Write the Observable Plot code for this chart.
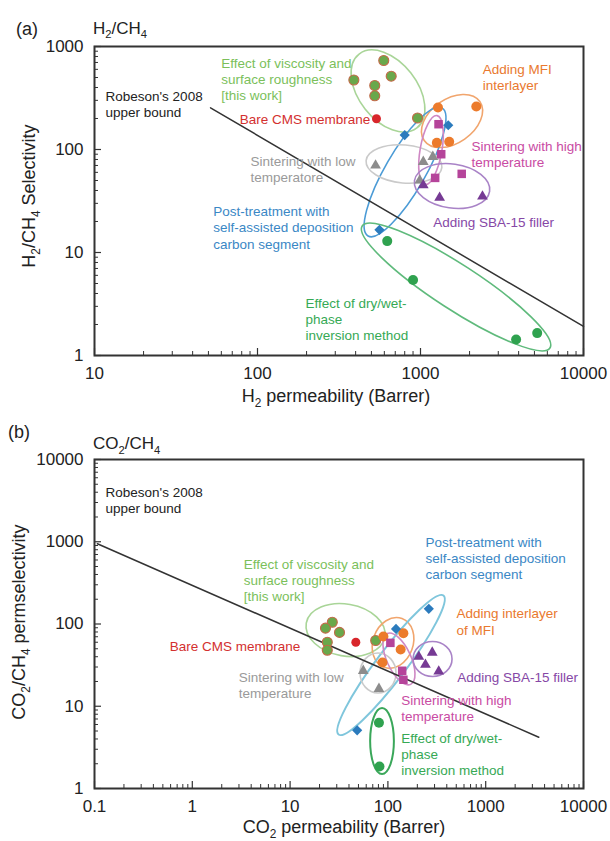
<!DOCTYPE html>
<html>
<head>
<meta charset="utf-8">
<script src="https://cdn.jsdelivr.net/npm/d3@7"></script>
<script src="https://cdn.jsdelivr.net/npm/@observablehq/plot@0.6"></script>
<style>
  body { margin: 0; background: #fff; }
  #fig { position: relative; width: 610px; height: 841px; background: #fff; }
  #fig svg { position: absolute; left: 0; }
</style>
</head>
<body>
<div id="fig"></div>
<script>
const FONT = '"Liberation Sans", Arial, Helvetica, sans-serif';

// ---------------- Panel (a): H2/CH4 ----------------
const h2PermTicks = [10, 100, 1000, 10000];
const h2SelTicks = [1, 10, 100, 1000];
const h2Bound = [[51.5, 254], [10000, 1.92]];
const h2ThisWork = [[390, 473], [595, 731], [661, 515], [524, 418], [524, 332], [959, 202]];
const h2Bare = [[537, 199]];
const h2Mfi = [[1280, 256], [2200, 261], [1260, 116], [1500, 119]];
const h2Post = [[1480, 172], [800, 138], [560, 16.6]];
const h2High = [[1290, 176], [1340, 90], [1230, 53], [1790, 58]];
const h2Low = [[530, 70], [1040, 76], [1190, 85], [990, 50]];
const h2Sba = [[1040, 45], [1310, 34], [2400, 35]];
const h2DryWet = [[625, 12.9], [900, 5.4], [3860, 1.43], [5200, 1.65]];
const h2Outlines = [
  {group: "thisWork", from: [423, 836], to: [957, 160], ratio: 0.62},
  {group: "mfi", from: [1061, 121], to: [2328, 289], ratio: 0.65},
  {group: "post", from: [480, 14.3], to: [1365, 251], ratio: 0.27},
  {group: "low", from: [467, 77], to: [1362, 66.4], ratio: 0.5},
  {group: "high", from: [1072, 45.2], to: [1273, 211], ratio: 0.31},
  {group: "sba", from: [925, 49.2], to: [2673, 38.8], ratio: 0.58},
  {group: "dryWet", from: [442, 17.9], to: [6266, 1.17], ratio: 0.2}
];
const h2Notes = [
  {x: 11.68, y: 280, group: "bound", text: "Robeson's 2008\nupper bound"},
  {x: 59.9, y: 484, group: "thisWork", text: "Effect of viscosity and\nsurface roughness\n[this work]"},
  {x: 77.9, y: 199, group: "bare", text: "Bare CMS membrane"},
  {x: 2411, y: 508, group: "mfi", text: "Adding MFI\ninterlayer"},
  {x: 2055, y: 90, group: "high", text: "Sintering with high\ntemperature"},
  {x: 90.6, y: 64.9, group: "low", text: "Sintering with low\ntemperatore"},
  {x: 53.5, y: 17.6, group: "post", text: "Post-treatment with\nself-assisted deposition\ncarbon segment"},
  {x: 1196, y: 19.7, group: "sba", text: "Adding SBA-15 filler"},
  {x: 197, y: 2.26, group: "dryWet", text: "Effect of dry/wet-\nphase\ninversion method"}
];

// ---------------- Panel (b): CO2/CH4 ----------------
const co2PermTicks = [0.1, 1, 10, 100, 1000, 10000];
const co2SelTicks = [1, 10, 100, 1000, 10000];
const co2Bound = [[0.107, 944], [3490, 4.2]];
const co2ThisWork = [[27, 105], [23, 89], [32, 79], [24, 60], [24, 48], [75, 63]];
const co2Bare = [[47, 60]];
const co2Mfi = [[90, 70.5], [144, 77], [135, 49], [88, 34]];
const co2Post = [[262, 153], [121, 87], [48.5, 5.1]];
const co2High = [[106, 59], [140, 27], [144, 21]];
const co2Low = [[56, 27], [81, 16.3]];
const co2Sba = [[284, 45], [242, 32], [331, 26.5], [207, 40]];
const co2DryWet = [[81, 6.3], [82, 1.85]];
const co2Outlines = [
  {group: "thisWork", from: [14.8, 101], to: [94.2, 68.6], ratio: 0.65},
  {group: "mfi", from: [92.5, 29.3], to: [141, 115], ratio: 0.77},
  {group: "post", from: [31.7, 4.47], to: [374, 219], ratio: 0.17},
  {group: "low", from: [80.2, 14.3], to: [80.2, 43.8], ratio: 0.9},
  {group: "high", from: [173, 18.2], to: [99.6, 75.4], ratio: 0.43},
  {group: "sba", from: [183, 37], to: [458, 37], ratio: 0.9},
  {group: "dryWet", from: [88.1, 1.48], to: [88.1, 9.39], ratio: 0.36}
];
const co2Notes = [
  {x: 0.1296, y: 3218, group: "bound", text: "Robeson's 2008\nupper bound"},
  {x: 3.36, y: 345, group: "thisWork", text: "Effect of viscosity and\nsurface roughness\n[this work]"},
  {x: 242, y: 636, group: "post", text: "Post-treatment with\nself-assisted deposition\ncarbon segment"},
  {x: 503, y: 108, group: "mfi", text: "Adding interlayer\nof MFI"},
  {x: 0.589, y: 54.8, group: "bare", text: "Bare CMS membrane"},
  {x: 2.99, y: 18.3, group: "low", text: "Sintering with low\ntemperature"},
  {x: 511, y: 22.5, group: "sba", text: "Adding SBA-15 filler"},
  {x: 136.8, y: 9.52, group: "high", text: "Sintering with high\ntemperature"},
  {x: 136.8, y: 2.66, group: "dryWet", text: "Effect of dry/wet-\nphase\ninversion method"}
];

// ---------------- styles ----------------
const STYLE = {
  bound:    {text: "#222222"},
  thisWork: {fill: "#69a84b", stroke: "#c26a48", text: "#7bbf5b", ring: "#a9d598", symbol: "circle", r: 5},
  bare:     {fill: "#d8262b", text: "#d3302f", symbol: "circle", r: 4.5},
  mfi:      {fill: "#ec7b2c", text: "#e9792f", ring: "#f1a56d", symbol: "circle", r: 5},
  post:     {fill: "#2b7bbd", text: "#3a87c5", ring: "#4b9bd6", ring2: "#7fc6dc", symbol: "diamond2", r: 4.6},
  high:     {fill: "#b5449a", text: "#c94ba3", ring: "#cf88c4", symbol: "square", r: 4.8},
  low:      {fill: "#8c8c8c", text: "#9a9a9a", ring: "#cacaca", symbol: "triangle", r: 4},
  sba:      {fill: "#763a94", text: "#8648a6", ring: "#a983c7", symbol: "triangle", r: 4},
  dryWet:   {fill: "#2fa24f", text: "#36a955", ring: "#5fba7c", ring2: "#3aa75a", symbol: "circle", r: 5}
};

function outlineMark(specs, alt) {
  return (index, scales) => {
    const g = d3.create("svg:g").attr("fill", "none");
    for (const s of specs) {
      const x1 = scales.x(s.from[0]), y1 = scales.y(s.from[1]);
      const x2 = scales.x(s.to[0]), y2 = scales.y(s.to[1]);
      const cx = (x1 + x2) / 2, cy = (y1 + y2) / 2;
      const rx = Math.hypot(x2 - x1, y2 - y1) / 2;
      const ang = Math.atan2(y2 - y1, x2 - x1) * 180 / Math.PI;
      const st = STYLE[s.group];
      const col = (alt && st.ring2) ? st.ring2 : st.ring;
      g.append("ellipse")
        .attr("cx", cx).attr("cy", cy).attr("rx", rx).attr("ry", rx * s.ratio)
        .attr("transform", `rotate(${ang} ${cx} ${cy})`)
        .attr("stroke", col)
        .attr("stroke-width", (alt && st.ring2) ? 2 : 1.6);
    }
    return g.node();
  };
}

function richText(str, {x, y, size = 18, anchor = "start", rotate = 0, fill = "#222"}) {
  return () => {
    const t = d3.create("svg:text")
      .attr("x", x).attr("y", y)
      .attr("font-size", size).attr("font-family", FONT)
      .attr("text-anchor", anchor).attr("fill", fill);
    if (rotate) t.attr("transform", `rotate(${rotate} ${x} ${y})`);
    const parts = str.split(/(_\d)/).filter(p => p.length);
    let shifted = false;
    const sh = size * 0.28;
    for (const p of parts) {
      const isSub = p[0] === "_";
      const sp = t.append("tspan").text(isSub ? p.slice(1) : p);
      if (isSub) { sp.attr("font-size", size * 0.66).attr("dy", sh); shifted = true; }
      else if (shifted) { sp.attr("dy", -sh); shifted = false; }
    }
    return t.node();
  };
}

function minorTicks(majors) {
  const out = [];
  for (let i = 0; i < majors.length - 1; i++)
    for (let k = 2; k <= 9; k++) out.push(+(majors[i] * k).toPrecision(6));
  return out;
}

function dotMarks(sets) {
  return sets.map(([key, arr]) => {
    const st = STYLE[key];
    return Plot.dot(arr, {
      x: d => d[0], y: d => d[1], symbol: st.symbol, r: st.r,
      fill: st.fill, stroke: st.stroke || "none", strokeWidth: st.stroke ? 1.1 : 0
    });
  });
}

const W = 610;

function panel(cfg) {
  const innerW = W - cfg.ml - cfg.mr;
  const innerH = cfg.h - cfg.mt - cfg.mb;
  const fmt = d => String(d);
  return Plot.plot({
    width: W, height: cfg.h,
    marginLeft: cfg.ml, marginRight: cfg.mr, marginTop: cfg.mt, marginBottom: cfg.mb,
    style: {fontFamily: FONT, background: "transparent", overflow: "visible"},
    x: {type: "log", domain: cfg.xDomain},
    y: {type: "log", domain: cfg.yDomain},
    marks: [
      outlineMark(cfg.outlines, cfg.alt),
      Plot.line(cfg.bound, {x: d => d[0], y: d => d[1], stroke: "#333", strokeWidth: 1.5}),
      ...cfg.notes.map(n => Plot.text([n], {
        x: "x", y: "y", text: "text", fill: STYLE[n.group].text,
        textAnchor: "start", lineAnchor: "middle", lineHeight: 1.2, fontSize: 13.5
      })),
      ...dotMarks(cfg.dots),
      Plot.tickX(minorTicks(cfg.xTicks), {x: d => d, insetTop: innerH - 4, stroke: "#333", strokeWidth: 1}),
      Plot.tickX(cfg.xTicks, {x: d => d, insetTop: innerH - 7, stroke: "#333", strokeWidth: 1.2}),
      Plot.tickY(minorTicks(cfg.yTicks), {y: d => d, insetRight: innerW - 4, stroke: "#333", strokeWidth: 1}),
      Plot.tickY(cfg.yTicks, {y: d => d, insetRight: innerW - 7, stroke: "#333", strokeWidth: 1.2}),
      Plot.frame({stroke: "#333", strokeWidth: 2}),
      Plot.axisX(cfg.xTicks, {tickSize: 0, tickPadding: 11.5, tickFormat: fmt, fontSize: 17, fill: "#222", label: null}),
      Plot.axisY(cfg.yTicks, {tickSize: 0, tickPadding: 11, tickFormat: fmt, fontSize: 17, fill: "#222", label: null}),
      ...cfg.labels
    ]
  });
}

const plotA = panel({
  h: 400, ml: 94, mr: 27, mt: 46, mb: 45,
  xDomain: [10, 10000], yDomain: [1, 1000],
  xTicks: h2PermTicks, yTicks: h2SelTicks,
  bound: h2Bound, outlines: h2Outlines, notes: h2Notes, alt: false,
  dots: [["thisWork", h2ThisWork], ["bare", h2Bare], ["mfi", h2Mfi], ["post", h2Post],
         ["low", h2Low], ["high", h2High], ["sba", h2Sba], ["dryWet", h2DryWet]],
  labels: [
    richText("(a)", {x: 16, y: 34.5, size: 18}),
    richText("H_2/CH_4", {x: 93, y: 33.5, size: 17}),
    richText("H_2/CH_4 Selectivity", {x: 35, y: 196, size: 18, anchor: "middle", rotate: -90}),
    richText("H_2 permeability (Barrer)", {x: 336, y: 402, size: 18, anchor: "middle"})
  ]
});

const plotB = panel({
  h: 441, ml: 94, mr: 27, mt: 59, mb: 53,
  xDomain: [0.1, 10000], yDomain: [1, 10000],
  xTicks: co2PermTicks, yTicks: co2SelTicks,
  bound: co2Bound, outlines: co2Outlines, notes: co2Notes, alt: true,
  dots: [["thisWork", co2ThisWork], ["bare", co2Bare], ["mfi", co2Mfi], ["post", co2Post],
         ["low", co2Low], ["high", co2High], ["sba", co2Sba], ["dryWet", co2DryWet]],
  labels: [
    richText("(b)", {x: 8, y: 38, size: 18}),
    richText("CO_2/CH_4", {x: 93, y: 49, size: 17}),
    richText("CO_2/CH_4 permselectivity", {x: 25, y: 222, size: 18, anchor: "middle", rotate: -90}),
    richText("CO_2 permeability (Barrer)", {x: 344, y: 433, size: 18, anchor: "middle"})
  ]
});

const fig = document.getElementById("fig");
plotA.style.top = "0px";
plotB.style.top = "400px";
fig.appendChild(plotA);
fig.appendChild(plotB);
</script>
</body>
</html>
